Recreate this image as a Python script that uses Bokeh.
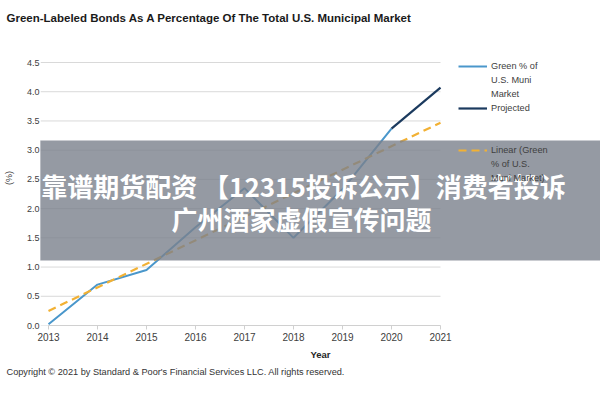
from bokeh.plotting import figure
from bokeh.models import (Range1d, FixedTicker, NumeralTickFormatter, Legend,
                          LegendItem, Title, Label, BoxAnnotation)
from bokeh.core.properties import value
from bokeh.embed import file_html
from bokeh.resources import INLINE

# ---------------- data ----------------
title_text = "Green-Labeled Bonds As A Percentage Of The Total U.S. Municipal Market"
years = [2013, 2014, 2015, 2016, 2017, 2018, 2019, 2020]
green_pct = [0.02, 0.70, 0.95, 1.68, 2.35, 1.50, 2.33, 3.37]
proj_years = [2020, 2021]
proj_pct = [3.37, 4.07]
trend_years = [2013, 2021]
trend_pct = [0.25, 3.47]
y_ticks = [0.0, 0.5, 1.0, 1.5, 2.0, 2.5, 3.0, 3.5, 4.0, 4.5]
x_ticks = [2013, 2014, 2015, 2016, 2017, 2018, 2019, 2020, 2021]
legend_green = ["Green % of", "U.S. Muni", "Market"]
legend_proj = ["Projected"]
legend_trend = ["Linear (Green", "% of U.S.", "Muni Market)"]
x_label = "Year"
y_label = "(%)"
copyright_text = "Copyright \u00a9 2021 by Standard & Poor's Financial Services LLC. All rights reserved."
banner_lines = ["靠谱期货配资 【12315投诉公示】消费者投诉", "广州酒家虚假宣传问题"]

# ---------------- style ----------------
FONT = "Liberation Sans"
CJK = "Noto Sans CJK SC"
TXT = "#404040"
GREEN = "#4a97cb"
NAVY = "#1b3a5e"
TREND = "#f2b134"
BANNER = "#7a818c"

# plot frame spans from the y-axis to the right edge, so that the legend and
# the banner sit inside it; data area ends at 2021 / 4.5
X0 = x_ticks[0] - 8 / 49.0
X1 = x_ticks[-1] + 160 / 49.0
Y1 = y_ticks[-1] + 32 / 58.44

p = figure(width=600, height=400, output_backend="svg", toolbar_location=None,
           x_range=Range1d(X0, X1), y_range=Range1d(0, Y1),
           min_border_left=40, min_border_right=0, min_border_top=30,
           min_border_bottom=75)
p.outline_line_color = None
p.background_fill_color = "white"
p.border_fill_color = "white"
p.xgrid.visible = False
p.ygrid.visible = False

# horizontal grid lines limited to the data area
p.segment(x0=[X0] * len(y_ticks), x1=[x_ticks[-1]] * len(y_ticks),
          y0=y_ticks, y1=y_ticks, line_color="#d9d9d9", line_width=1)

p.yaxis.ticker = FixedTicker(ticks=y_ticks)
p.yaxis.bounds = (y_ticks[0], y_ticks[-1])
p.yaxis.formatter = NumeralTickFormatter(format="0.0")
p.yaxis.axis_line_color = None
p.yaxis.major_tick_line_color = None
p.yaxis.minor_tick_line_color = None
p.yaxis.major_tick_out = 0
p.yaxis.major_tick_in = 0
p.yaxis.minor_tick_out = 0
p.yaxis.minor_tick_in = 0
p.yaxis.major_label_standoff = 1
p.yaxis.major_label_text_font = FONT
p.yaxis.major_label_text_font_size = "9px"
p.yaxis.major_label_text_color = TXT
p.yaxis.axis_label = y_label
p.yaxis.axis_label_text_font = FONT
p.yaxis.axis_label_text_font_size = "9px"
p.yaxis.axis_label_text_font_style = "normal"
p.yaxis.axis_label_text_color = TXT
p.yaxis.axis_label_standoff = 10

p.xaxis.ticker = FixedTicker(ticks=x_ticks)
p.xaxis.bounds = (x_ticks[0], x_ticks[-1])
p.xaxis.axis_line_color = "#d0d0d0"
p.xaxis.major_tick_line_color = "#d0d0d0"
p.xaxis.major_tick_in = 0
p.xaxis.major_tick_out = 4
p.xaxis.minor_tick_line_color = None
p.xaxis.minor_tick_out = 0
p.xaxis.minor_tick_in = 0
p.xaxis.major_label_standoff = 3
p.xaxis.major_label_text_font = FONT
p.xaxis.major_label_text_font_size = "10px"
p.xaxis.major_label_text_color = TXT
p.xaxis.axis_label = x_label
p.xaxis.axis_label_text_font = FONT
p.xaxis.axis_label_text_font_size = "9.5px"
p.xaxis.axis_label_text_font_style = "bold"
p.xaxis.axis_label_text_color = "#262626"
p.xaxis.axis_label_standoff = 5

r_green = p.line(years, green_pct, line_color=GREEN, line_width=2)
r_proj = p.line(proj_years, proj_pct, line_color=NAVY, line_width=2.2)
r_trend = p.line(trend_years, trend_pct, line_color=TREND, line_width=2.2,
                 line_dash="8 5")


def rows(lines, renderer):
    out = [LegendItem(label=value(lines[0]), renderers=[renderer])]
    out += [LegendItem(label=value(t), renderers=[]) for t in lines[1:]]
    return out


items = (rows(legend_green, r_green) + rows(legend_proj, r_proj)
         + [LegendItem(label=value(" "), renderers=[]),
            LegendItem(label=value(" "), renderers=[])]
         + rows(legend_trend, r_trend))

legend = Legend(items=items, location=(418, 140), orientation="vertical",
                padding=0, margin=0, spacing=0, border_line_color=None,
                background_fill_alpha=0, glyph_width=29, glyph_height=14,
                label_height=14, label_standoff=4, label_text_font=FONT,
                label_text_font_size="9.2px", label_text_color=TXT)
p.add_layout(legend, "center")

p.title = Title(text=title_text, align="left", offset=-34, text_font=FONT,
                text_font_size="11.5px", text_font_style="bold",
                text_color="#1a1a1a", standoff=14)
p.add_layout(Title(text=copyright_text, align="left", offset=-34,
                   text_font=FONT, text_font_size="9.2px",
                   text_font_style="normal", text_color="#333333",
                   standoff=5), "below")

# ---------------- overlay banner ----------------
p.add_layout(BoxAnnotation(left=-40, right=600, bottom=65, top=185,
                           left_units="screen", right_units="screen",
                           bottom_units="screen", top_units="screen",
                           fill_color=BANNER, fill_alpha=0.8,
                           line_color=None, level="overlay"), "center")
p.add_layout(BoxAnnotation(left=-60, right=0, top=185, bottom=65,
                           left_units="screen", right_units="screen",
                           bottom_units="screen", top_units="screen",
                           fill_color=BANNER, fill_alpha=0.8,
                           line_color=None, level="overlay"), "left")
p.add_layout(Label(x=263, y=140, x_units="screen", y_units="screen",
                   text=banner_lines[0], text_font=CJK, text_font_size="26px",
                   text_font_style="bold", text_color="white",
                   text_baseline="middle", text_align="center",
                   level="overlay"), "center")
p.add_layout(Label(x=261, y=107, x_units="screen", y_units="screen",
                   text=banner_lines[1], text_font=CJK, text_font_size="26px",
                   text_font_style="bold", text_color="white",
                   text_baseline="middle", text_align="center",
                   level="overlay"), "center")

open("out.html", "w").write(file_html(p, INLINE))
